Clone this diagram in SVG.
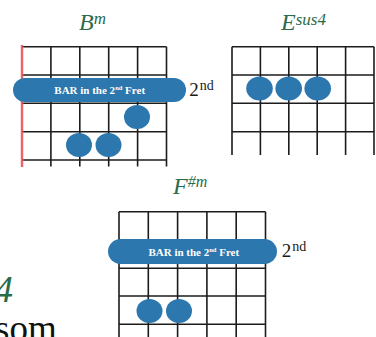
<svg xmlns="http://www.w3.org/2000/svg" width="376" height="337" viewBox="0 0 376 337">
<style>
.grid{stroke:#1c1c1c;stroke-width:1.6;fill:none}
.dot{fill:#2b77ae}
.bar{fill:#2b77ae}
.bartxt{font-family:"Liberation Serif",serif;font-weight:bold;font-size:11px;fill:#ffffff;text-anchor:middle}
.title{font-family:"Liberation Serif",serif;font-style:italic;fill:#2a6b4c}
.fret{font-family:"Liberation Serif",serif;fill:#1a1a1a}
</style>
<rect width="376" height="337" fill="#ffffff"/>

<g id="chord-bm">
  <text class="title" x="79" y="29.5" font-size="24">B<tspan font-size="17" dy="-5.5">m</tspan></text>
  <path class="grid" d="M22 46.7H166.5M22 75H166.5M22 103.3H166.5M22 131.7H166.5M22 160H166.5M50.9 46.7V166.5M79.8 46.7V166.5M108.7 46.7V166.5M137.6 46.7V166.5M166.5 46.7V166.5"/>
  <line x1="22" y1="45" x2="22" y2="167" stroke="#f08a8c" stroke-width="3" opacity="0.6"/>
  <line x1="22" y1="45" x2="22" y2="167" stroke="#e5383c" stroke-width="1.3"/>
  <rect class="bar" x="13" y="78" width="173" height="24" rx="12"/>
  <text class="bartxt" x="99.7" y="93.8">BAR in the 2<tspan font-size="6.5" dy="-3.5">nd</tspan><tspan dy="3.5"> Fret</tspan></text>
  <ellipse class="dot" cx="137" cy="117" rx="13" ry="12"/>
  <ellipse class="dot" cx="79" cy="145" rx="13" ry="12"/>
  <ellipse class="dot" cx="108.5" cy="145" rx="13" ry="12"/>
  <text class="fret" x="189.3" y="96" font-size="19">2<tspan font-size="14" dy="-6" dx="1">nd</tspan></text>
</g>

<g id="chord-esus4">
  <text class="title" x="281" y="30" font-size="24">E<tspan font-size="17" dy="-5">sus4</tspan></text>
  <path class="grid" d="M232 46.7H374M232 75H374M232 103.3H374M232 131.7H374M232 46.7V155M260.4 46.7V155M288.8 46.7V155M317.2 46.7V155M345.6 46.7V155M374 46.7V155"/>
  <ellipse class="dot" cx="259.5" cy="88.5" rx="13.3" ry="12"/>
  <ellipse class="dot" cx="288.7" cy="88.5" rx="13.3" ry="12"/>
  <ellipse class="dot" cx="317.7" cy="88.5" rx="13.3" ry="12"/>
</g>

<g id="chord-fsharpm">
  <text class="title" x="173" y="193.5" font-size="24">F<tspan font-size="16" dy="-7">#m</tspan></text>
  <path class="grid" d="M119 211.7H265.5M119 240H265.5M119 268.3H265.5M119 296H265.5M119 324.3H265.5M119 211.7V337M148.3 211.7V337M177.6 211.7V337M206.9 211.7V337M236.2 211.7V337M265.5 211.7V337"/>
  <rect class="bar" x="108" y="239" width="169" height="25" rx="12.5"/>
  <text class="bartxt" x="193.8" y="255.5">BAR in the 2<tspan font-size="6.5" dy="-3.5">nd</tspan><tspan dy="3.5"> Fret</tspan></text>
  <ellipse class="dot" cx="149.5" cy="311" rx="13" ry="12"/>
  <ellipse class="dot" cx="179" cy="311" rx="13" ry="12"/>
  <text class="fret" x="281.7" y="257" font-size="19">2<tspan font-size="14" dy="-6" dx="1">nd</tspan></text>
</g>

<g id="page-text">
  <text class="title" x="-6" y="302" font-size="38">4</text>
  <text x="-5" y="341" font-family="Liberation Serif, serif" font-size="37" fill="#111111">som</text>
</g>
</svg>
